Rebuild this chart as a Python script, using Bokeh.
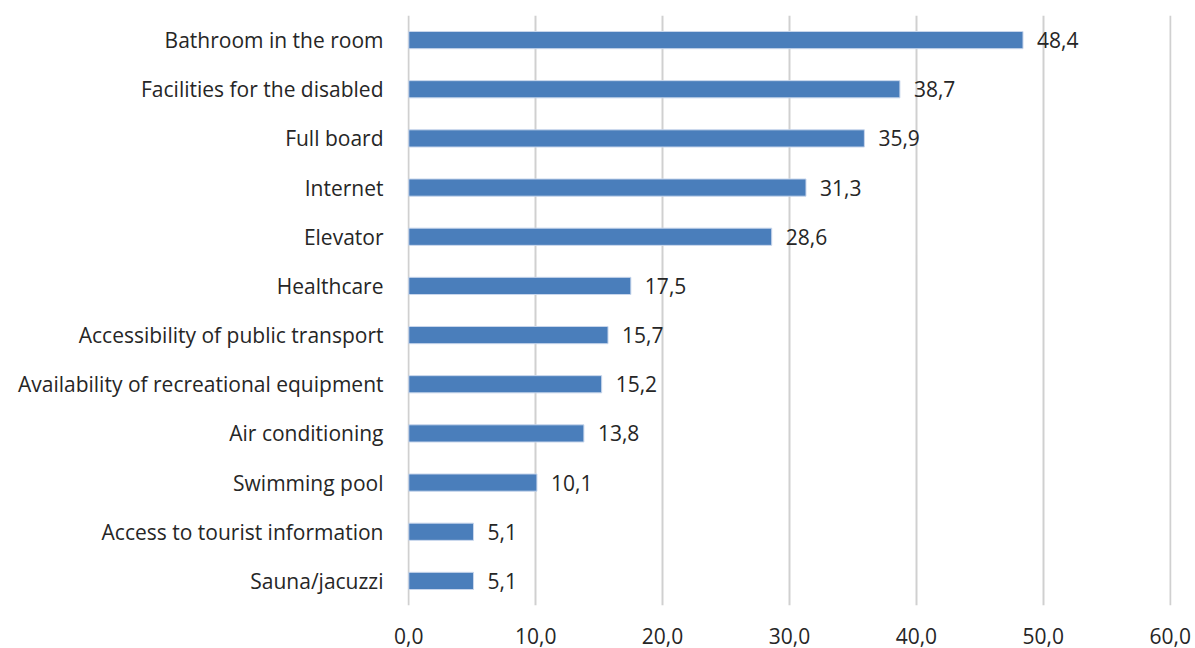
from bokeh.plotting import figure
from bokeh.models import ColumnDataSource, FixedTicker, Range1d
from bokeh.core.properties import value
from bokeh.embed import file_html
from bokeh.resources import INLINE

categories = ["Bathroom in the room", "Facilities for the disabled", "Full board",
              "Internet", "Elevator", "Healthcare", "Accessibility of public transport",
              "Availability of recreational equipment", "Air conditioning",
              "Swimming pool", "Access to tourist information", "Sauna/jacuzzi"]
values = [48.4, 38.7, 35.9, 31.3, 28.6, 17.5, 15.7, 15.2, 13.8, 10.1, 5.1, 5.1]
value_labels = ["48,4", "38,7", "35,9", "31,3", "28,6", "17,5", "15,7", "15,2",
                "13,8", "10,1", "5,1", "5,1"]
x_ticks = [0, 10, 20, 30, 40, 50, 60]
x_tick_labels = ["0,0", "10,0", "20,0", "30,0", "40,0", "50,0", "60,0"]

FONT = "Open Sans"
FS = "21px"
TXT = "#262626"

src = ColumnDataSource(dict(cat=categories, val=values, lab=value_labels))

p = figure(width=1195, height=648, y_range=list(reversed(categories)),
           x_range=Range1d(-0.1, 60.1), output_backend="svg", toolbar_location=None,
           min_border_left=407, min_border_right=24, min_border_top=15,
           min_border_bottom=43)
p.outline_line_color = None
p.background_fill_color = "white"

p.hbar(y="cat", right="val", left=0, height=0.35, source=src,
       fill_color="#4a7ebb", line_color="#c9d7ec", line_width=1)
p.text(x="val", y="cat", text="lab", source=src, x_offset=14,
       text_baseline="middle", text_align="left", text_font=value(FONT),
       text_font_size=FS, text_color=TXT)

p.xaxis.ticker = FixedTicker(ticks=x_ticks)
p.xaxis.major_label_overrides = {t: l for t, l in zip(x_ticks, x_tick_labels)}
p.xaxis.axis_line_color = None
p.xaxis.major_tick_line_color = None
p.xaxis.minor_tick_line_color = None
p.xaxis.major_label_standoff = 16
p.xaxis.major_label_text_font = FONT
p.xaxis.major_label_text_font_size = FS
p.xaxis.major_label_text_color = TXT

p.yaxis.axis_line_color = None
p.yaxis.major_tick_line_color = None
p.yaxis.minor_tick_line_color = None
p.yaxis.major_label_standoff = 18
p.yaxis.major_label_text_font = FONT
p.yaxis.major_label_text_font_size = FS
p.yaxis.major_label_text_color = TXT

p.xgrid.grid_line_color = "#d0d0d0"
p.xgrid.grid_line_width = 2
p.ygrid.grid_line_color = None

open("out.html", "w").write(file_html(p, INLINE))
